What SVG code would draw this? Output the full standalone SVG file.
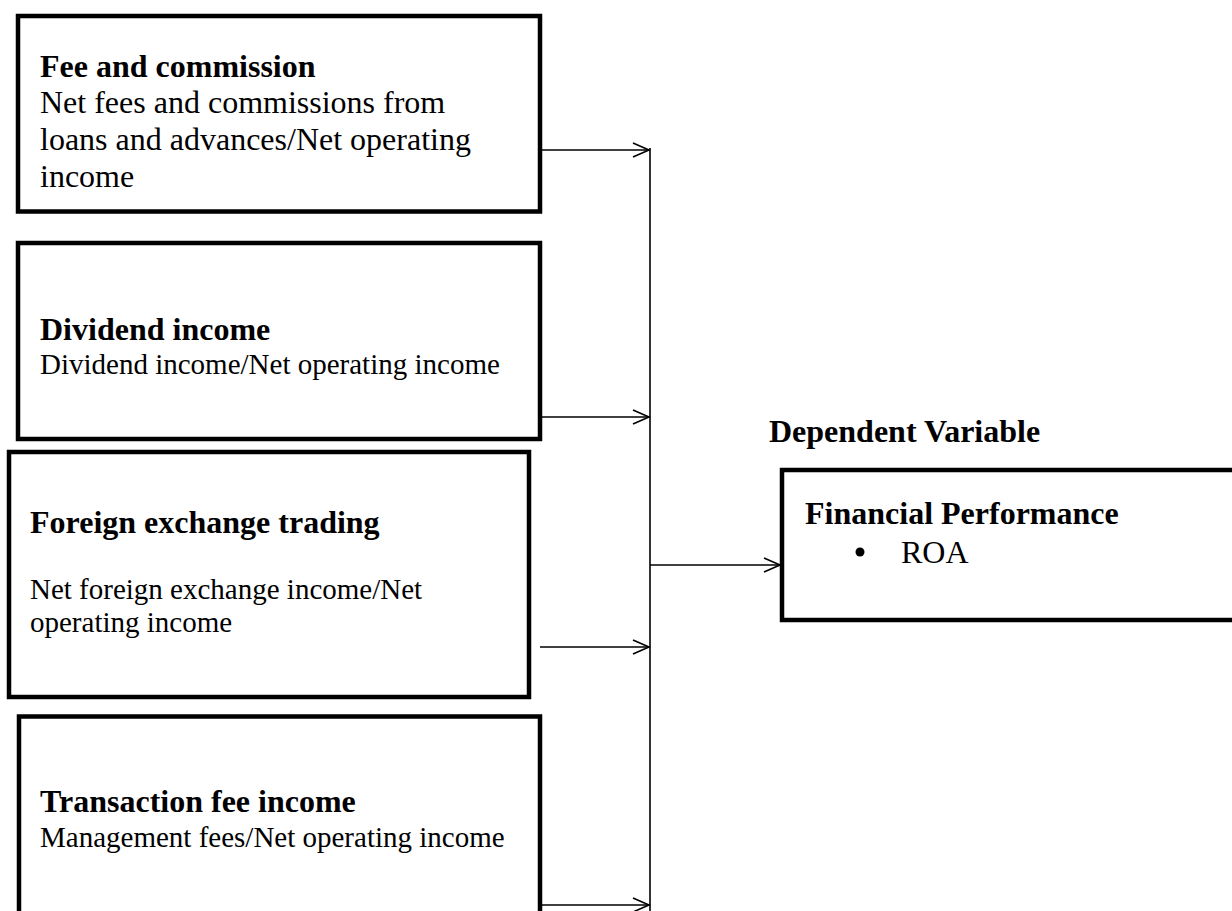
<svg xmlns="http://www.w3.org/2000/svg" width="1232" height="911" viewBox="0 0 1232 911">
<defs>
<style>
.box{fill:#fff;stroke:#000;stroke-width:4.5}
.t{font-family:"Liberation Serif","Times New Roman",serif;fill:#000}
.b{font-weight:bold;font-size:32px}
.r32{font-size:32px}
.r29{font-size:29px}
.c{stroke:#000;stroke-width:1.6;fill:none}
</style>
<marker id="ah" markerWidth="20" markerHeight="18" refX="17" refY="8" orient="auto" markerUnits="userSpaceOnUse">
<path d="M1,1 L17,8 L1,15" fill="none" stroke="#000" stroke-width="1.6"/>
</marker>
</defs>
<rect width="1232" height="911" fill="#fff"/>
<g id="n1">
<rect class="box" x="18" y="16" width="522" height="195.5"/>
<text class="t b" x="40" y="77">Fee and commission</text>
<text class="t r32" x="40" y="113">Net fees and commissions from</text>
<text class="t r32" x="40" y="150">loans and advances/Net operating</text>
<text class="t r32" x="40" y="187">income</text>
</g>
<g id="n2">
<rect class="box" x="18" y="243" width="522" height="196"/>
<text class="t b" x="40" y="340">Dividend income</text>
<text class="t r29" x="40" y="374">Dividend income/Net operating income</text>
</g>
<g id="n3">
<rect class="box" x="9" y="452" width="520" height="245"/>
<text class="t b" x="30" y="533">Foreign exchange trading</text>
<text class="t r29" x="30" y="599">Net foreign exchange income/Net</text>
<text class="t r29" x="30" y="632">operating income</text>
</g>
<g id="n4">
<rect class="box" x="19" y="716.5" width="521" height="210"/>
<text class="t b" x="40" y="812">Transaction fee income</text>
<text class="t r29" x="40" y="847">Management fees/Net operating income</text>
</g>
<g id="label">
<text class="t b" x="769" y="442">Dependent Variable</text>
</g>
<g id="n5">
<rect class="box" x="782" y="470" width="470" height="150"/>
<text class="t b" x="805" y="524">Financial Performance</text>
<circle cx="860" cy="552" r="4.5" fill="#000"/>
<text class="t r32" x="901" y="563">ROA</text>
</g>
<g id="connectors">
<line class="c" x1="650" y1="148" x2="650" y2="911"/>
<line class="c" x1="540" y1="150" x2="649" y2="150" marker-end="url(#ah)"/>
<line class="c" x1="540" y1="417" x2="649" y2="417" marker-end="url(#ah)"/>
<line class="c" x1="540" y1="647" x2="649" y2="647" marker-end="url(#ah)"/>
<line class="c" x1="540" y1="905" x2="649" y2="905" marker-end="url(#ah)"/>
<line class="c" x1="650" y1="565" x2="780" y2="565" marker-end="url(#ah)"/>
</g>
</svg>
